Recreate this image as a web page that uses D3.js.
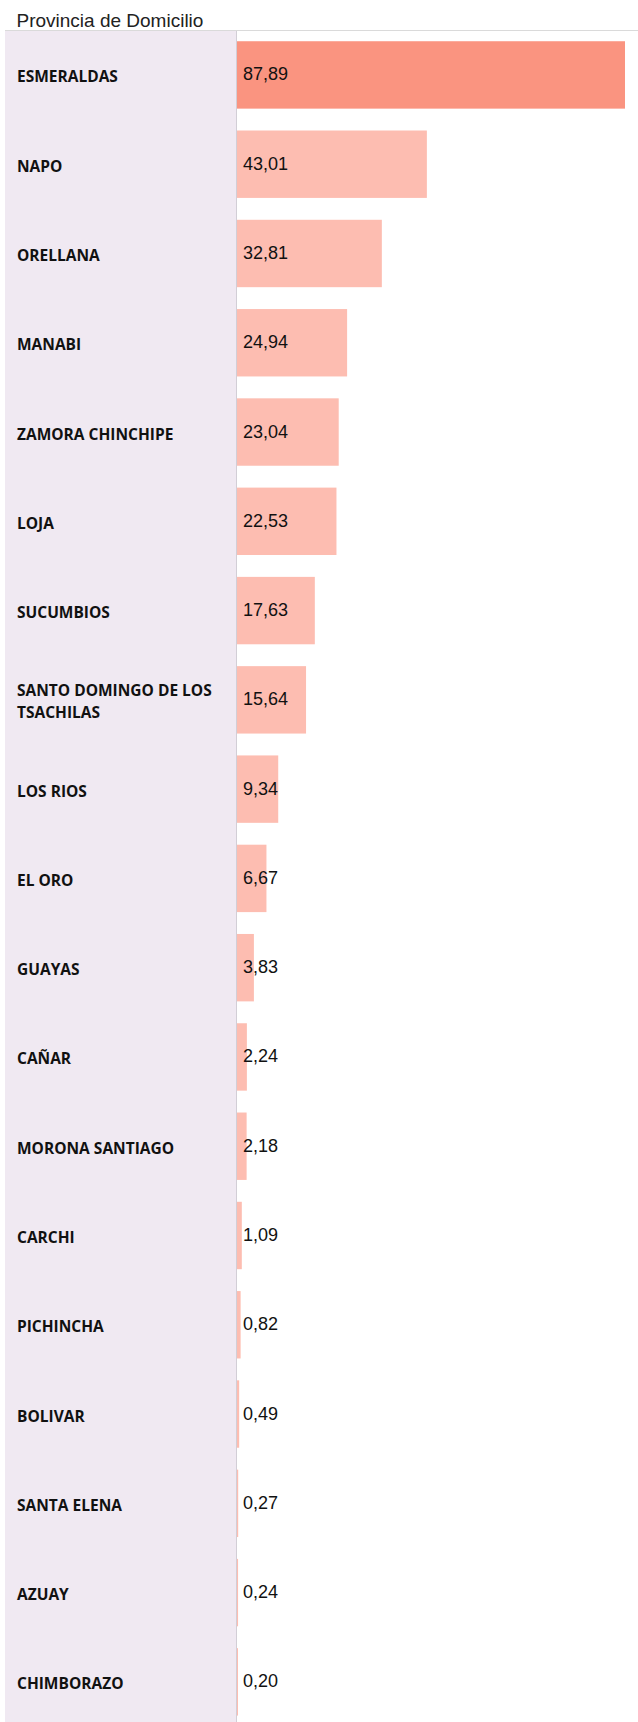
<!DOCTYPE html>
<html>
<head>
<meta charset="utf-8">
<script src="https://cdn.jsdelivr.net/npm/d3@7"></script>
<style>
  body { margin: 0; background: #fff; }
  .chart-title { font-family: Arial, "Liberation Sans", sans-serif; font-size: 19px; fill: #222; }
  .row-label { font-family: "Open Sans", sans-serif; font-weight: 700; font-size: 15.5px; fill: #111; }
  .bar-value { font-family: Arial, "Liberation Sans", sans-serif; font-size: 18px; fill: #111; }
</style>
</head>
<body>
<svg id="chart"></svg>
<script>
// Data
const provinces = ['ESMERALDAS', 'NAPO', 'ORELLANA', 'MANABI', 'ZAMORA CHINCHIPE', 'LOJA',
  'SUCUMBIOS', 'SANTO DOMINGO DE LOS TSACHILAS', 'LOS RIOS', 'EL ORO', 'GUAYAS', 'CAÑAR',
  'MORONA SANTIAGO', 'CARCHI', 'PICHINCHA', 'BOLIVAR', 'SANTA ELENA', 'AZUAY', 'CHIMBORAZO'];
const values = [87.89, 43.01, 32.81, 24.94, 23.04, 22.53, 17.63, 15.64, 9.34, 6.67, 3.83,
  2.24, 2.18, 1.09, 0.82, 0.49, 0.27, 0.24, 0.20];
const title = 'Provincia de Domicilio';

class ProvinceBarchart {

  constructor(_config, _data) {
    this.config = {
      parentElement: _config.parentElement,
      containerWidth: _config.containerWidth || 638,
      containerHeight: _config.containerHeight || 1722,
      headerHeight: 31,
      panelLeft: 5,
      panelRight: 236,
    }
    this.data = _data;
    this.initVis();
  }

  initVis() {
    let vis = this;
    const c = vis.config;

    vis.svg = d3.select(c.parentElement)
        .attr('width', c.containerWidth)
        .attr('height', c.containerHeight);

    vis.xScale = d3.scaleLinear()
        .range([c.panelRight + 1, 625]);

    vis.yScale = d3.scaleBand()
        .range([30.3, 1726.5])
        .paddingInner(0.245)
        .paddingOuter(0.1225);

    // decimal comma like the original
    vis.format = d3.formatLocale({decimal: ',', thousands: '.', grouping: [3], currency: ['', '']}).format('.2f');

    // title + header rule
    vis.svg.append('text')
        .attr('class', 'chart-title')
        .attr('x', 16.5)
        .attr('y', 26.5)
        .text(title);

    // left label panel
    vis.svg.append('rect')
        .attr('x', c.panelLeft)
        .attr('y', c.headerHeight)
        .attr('width', c.panelRight - c.panelLeft)
        .attr('height', c.containerHeight - c.headerHeight)
        .attr('fill', '#f0e9f2');

    vis.svg.append('line')
        .attr('x1', c.panelRight + 0.5).attr('x2', c.panelRight + 0.5)
        .attr('y1', c.headerHeight).attr('y2', c.containerHeight)
        .attr('stroke', '#d2ced6');

    vis.svg.append('line')
        .attr('x1', c.panelLeft).attr('x2', c.containerWidth)
        .attr('y1', c.headerHeight - 0.5).attr('y2', c.headerHeight - 0.5)
        .attr('stroke', '#dadada');

    vis.chart = vis.svg.append('g');

    vis.updateVis();
  }

  updateVis() {
    let vis = this;
    vis.xValue = d => d.value;
    vis.yValue = d => d.province;

    vis.xScale.domain([0, d3.max(vis.data, vis.xValue)]);
    vis.yScale.domain(vis.data.map(vis.yValue));
    vis.maxValue = d3.max(vis.data, vis.xValue);

    vis.renderVis();
  }

  renderVis() {
    let vis = this;
    const bw = vis.yScale.bandwidth();

    vis.chart.selectAll('.bar')
        .data(vis.data, vis.yValue)
      .join('rect')
        .attr('class', 'bar')
        .attr('x', vis.xScale(0))
        .attr('y', d => vis.yScale(vis.yValue(d)))
        .attr('width', d => Math.max(1, vis.xScale(vis.xValue(d)) - vis.xScale(0)))
        .attr('height', bw)
        .attr('fill', d => vis.xValue(d) === vis.maxValue ? '#fa9480' : '#fdbdb1');

    vis.chart.selectAll('.bar-value')
        .data(vis.data, vis.yValue)
      .join('text')
        .attr('class', 'bar-value')
        .attr('x', vis.xScale(0) + 6)
        .attr('y', d => vis.yScale(vis.yValue(d)) + bw / 2 + 5.5)
        .text(d => vis.format(vis.xValue(d)));

    const labels = vis.chart.selectAll('.row-label')
        .data(vis.data, vis.yValue)
      .join('text')
        .attr('class', 'row-label')
        .attr('x', 17)
        .attr('y', d => vis.yScale(vis.yValue(d)) + bw / 2 + 7.5);

    // wrap long names inside the panel
    const maxW = 205, lineH = 22;
    labels.each(function(d) {
      const text = d3.select(this);
      const words = vis.yValue(d).split(' ');
      const lines = [];
      let line = [];
      const probe = text.append('tspan');
      words.forEach(w => {
        line.push(w);
        probe.text(line.join(' '));
        if (probe.node().getComputedTextLength() > maxW && line.length > 1) {
          line.pop();
          lines.push(line.join(' '));
          line = [w];
        }
      });
      lines.push(line.join(' '));
      probe.remove();
      const shift = -(lines.length - 1) * lineH / 2;
      lines.forEach((l, i) => {
        text.append('tspan')
            .attr('x', 17)
            .attr('dy', i === 0 ? shift : lineH)
            .text(l);
      });
    });
  }
}

const data = provinces.map((p, i) => ({province: p, value: values[i]}));
new ProvinceBarchart({parentElement: '#chart'}, data);
</script>
</body>
</html>
